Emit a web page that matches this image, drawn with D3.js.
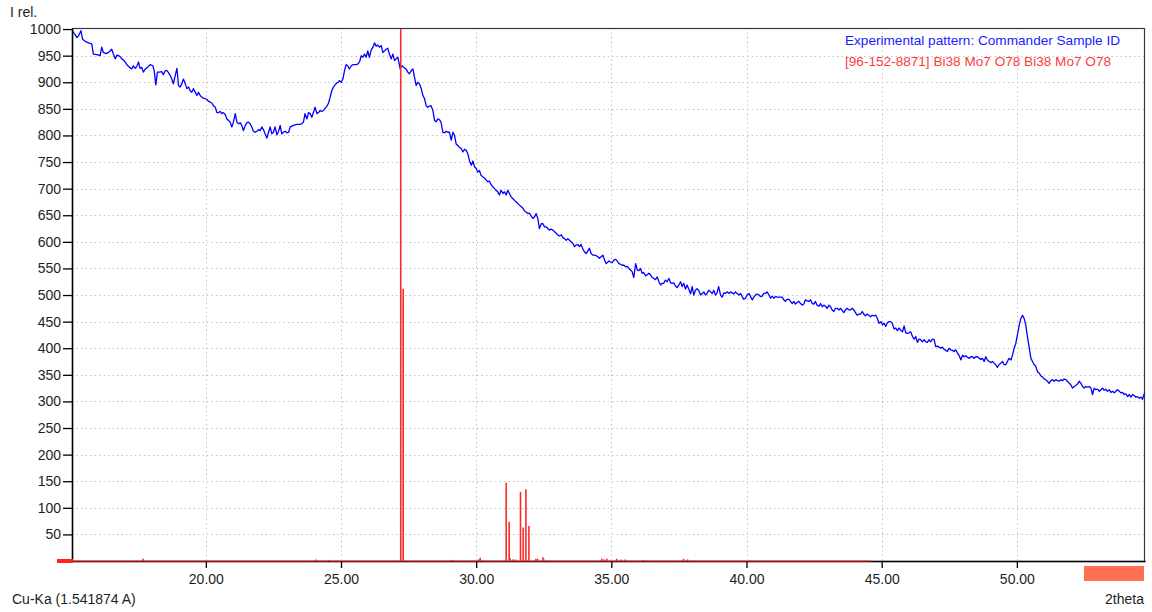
<!DOCTYPE html>
<html>
<head>
<meta charset="utf-8">
<script src="https://cdn.jsdelivr.net/npm/d3@7"></script>
<style>
  body { margin: 0; background: #fff; }
  svg { display: block; font-family: "Liberation Sans", Arial, sans-serif; }
</style>
</head>
<body>
<svg id="chart" width="1152" height="612"></svg>
<script>
// Measured scan: diffraction angle (2theta, degrees) and relative intensity
const twoTheta = [
  15.04,15.10,15.17,15.23,15.29,15.38,15.44,15.54,15.66,15.78,15.84,15.97,16.09,16.15,16.21,16.31,16.40,16.52,16.58,16.65,
  16.71,16.81,16.89,16.95,17.02,17.08,17.18,17.26,17.32,17.39,17.45,17.51,17.57,17.63,17.69,17.76,17.84,17.94,18.04,18.09,
  18.15,18.21,18.29,18.37,18.43,18.50,18.56,18.62,18.68,18.74,18.80,18.87,18.93,18.99,19.05,19.11,19.17,19.24,19.30,19.36,
  19.42,19.48,19.54,19.61,19.67,19.73,19.79,19.85,19.91,19.98,20.04,20.10,20.16,20.22,20.28,20.35,20.41,20.47,20.53,20.59,
  20.65,20.72,20.78,20.84,20.90,20.96,21.02,21.09,21.15,21.21,21.27,21.33,21.39,21.46,21.52,21.58,21.64,21.70,21.76,21.82,
  21.89,21.95,22.01,22.07,22.13,22.19,22.26,22.32,22.38,22.44,22.50,22.56,22.63,22.69,22.75,22.81,22.87,22.93,23.00,23.06,
  23.12,23.24,23.37,23.49,23.55,23.61,23.67,23.74,23.80,23.86,23.92,23.98,24.04,24.11,24.17,24.23,24.29,24.35,24.48,24.54,
  24.60,24.66,24.72,24.78,24.85,24.91,
  24.94,25.01,25.07,25.13,25.19,25.25,25.31,25.38,25.44,25.50,25.56,25.62,25.69,25.75,25.81,25.87,25.93,25.99,26.05,26.12,
  26.18,26.24,26.30,26.36,26.42,26.49,26.55,26.61,26.67,26.73,26.79,26.86,26.92,26.98,27.04,27.10,27.14,27.19,27.25,27.32,
  27.41,27.47,27.53,27.60,27.66,27.72,27.78,27.84,27.90,27.97,28.03,28.09,28.15,28.21,28.27,28.33,28.40,28.46,28.52,28.58,
  28.64,28.70,28.77,28.83,28.89,28.95,29.01,29.08,29.14,29.20,29.26,29.32,29.38,29.45,29.51,29.57,29.63,29.69,29.75,29.82,
  29.88,29.94,30.00,30.06,30.12,30.18,30.25,30.31,30.37,30.43,30.49,30.55,30.62,30.68,30.74,30.80,30.86,30.92,30.99,31.05,
  31.11,31.17,31.23,31.30,31.36,31.42,31.48,31.54,31.60,31.67,31.73,31.79,31.85,31.91,31.97,32.03,32.10,32.16,32.22,32.28,
  32.34,32.41,32.47,32.53,32.59,32.65,32.71,32.77,32.84,32.90,32.96,33.02,33.08,33.15,33.21,33.27,33.33,33.39,33.45,33.51,
  33.58,33.64,33.70,33.76,33.82,33.88,33.95,34.01,34.07,34.13,34.19,34.25,34.32,34.38,34.44,34.50,34.56,34.62,34.69,34.75,
  34.81,
  34.91,34.97,35.03,35.10,35.16,35.22,35.28,35.34,35.40,35.47,35.53,35.59,35.65,35.71,35.77,35.83,35.90,35.96,36.02,36.08,
  36.14,36.20,36.27,36.33,36.39,36.45,36.51,36.57,36.63,36.70,36.76,36.82,36.88,36.94,37.00,37.06,37.13,37.19,37.25,37.31,
  37.37,37.43,37.50,37.56,37.62,37.68,37.74,37.80,37.86,37.93,37.99,38.05,38.11,38.17,38.24,38.30,38.36,38.42,38.48,38.54,
  38.60,38.67,38.73,38.79,38.85,38.91,38.97,39.04,39.10,39.16,39.22,39.28,39.35,39.41,39.47,39.53,39.59,39.65,39.72,39.78,
  39.84,39.90,39.96,40.02,40.09,40.15,40.21,40.27,40.33,40.39,40.46,40.52,40.58,40.64,40.70,40.76,40.83,40.89,40.95,41.01,
  41.07,41.13,41.20,41.26,41.32,41.38,41.44,41.50,41.57,41.63,41.69,41.75,41.81,41.87,41.94,42.00,42.06,42.12,42.18,42.24,
  42.31,42.37,42.43,42.49,42.55,42.61,42.68,42.74,42.80,42.86,42.92,42.98,43.05,43.11,43.17,43.23,43.29,43.35,43.42,43.48,
  43.54,43.60,43.66,43.72,43.79,43.85,43.91,43.97,44.03,44.09,44.16,44.22,44.28,44.34,44.40,44.46,44.53,44.59,44.65,44.71,
  44.78,44.84,44.90,44.97,45.03,45.09,45.15,45.21,45.27,45.33,45.39,45.46,45.52,45.58,45.64,45.70,45.77,45.83,45.89,45.95,
  46.01,46.07,46.14,46.20,46.26,46.32,46.38,46.44,46.51,46.57,46.63,46.69,46.75,46.81,46.88,46.94,47.00,47.06,47.12,47.19,
  47.25,47.31,47.37,47.43,47.49,47.56,47.62,47.68,47.74,47.80,47.86,47.93,47.99,48.05,48.11,48.17,48.24,48.30,48.36,48.42,
  48.48,48.54,48.61,48.67,48.73,48.79,48.85,48.91,48.98,49.04,49.10,49.16,49.22,49.28,49.34,49.41,49.47,49.53,49.59,49.65,
  49.71,49.78,49.84,49.90,49.96,50.02,50.09,50.15,50.21,50.27,50.33,50.39,50.46,50.52,50.58,50.64,50.70,50.76,50.83,50.89,
  50.95,51.01,51.07,51.13,51.19,51.26,51.32,51.38,51.44,51.50,51.57,51.63,51.69,51.75,51.81,51.87,51.94,52.00,52.06,52.12,
  52.18,52.25,52.31,52.37,52.43,52.49,52.55,52.62,52.68,52.74,52.80,52.86,52.92,52.99,53.05,53.11,53.17,53.23,53.29,53.35,
  53.42,53.48,53.54,53.60,53.66,53.72,53.79,53.85,53.91,53.97,54.03,54.10,54.16,54.22,54.28,54.34,54.40,54.46,54.53,54.59,
  54.65,54.70,54.74
];
const intensity = [
  1000,994,989,984,987,997,981,977,974,972,953,952,950,966,956,954,956,962,953,944,
  951,949,944,942,938,933,928,925,931,926,930,938,926,928,919,925,928,933,931,922,
  895,919,919,920,914,922,922,918,913,906,897,913,926,894,891,897,906,897,888,891,
  884,881,888,881,875,881,875,872,870,869,868,864,863,861,856,853,843,843,845,841,
  843,839,831,828,825,816,825,841,825,822,824,819,809,819,824,825,822,816,808,806,
  808,811,809,816,811,803,795,806,816,803,806,816,801,808,819,803,806,808,805,806,
  816,819,821,821,822,825,841,831,843,841,834,843,853,841,843,847,845,847,855,861,
  872,884,891,895,899,900,
  903,900,906,922,933,931,925,931,933,933,933,934,939,950,947,953,947,959,947,961,
  966,974,968,970,966,969,956,959,962,964,953,944,953,941,944,947,938,925,931,928,
  925,919,916,922,925,909,894,900,897,888,875,869,856,853,855,856,847,828,826,831,
  830,825,806,805,808,806,806,791,806,800,784,781,778,775,769,774,772,766,753,744,
  752,741,738,731,734,725,722,720,716,713,714,708,703,700,697,694,688,697,691,694,
  688,697,691,684,681,678,675,672,669,666,663,658,656,653,654,649,644,647,653,644,
  625,634,634,628,628,625,622,624,622,619,616,613,611,613,608,606,603,606,603,600,
  597,591,594,595,591,595,586,581,578,583,588,578,575,575,574,572,569,572,575,566,
  559,
  564,562,561,566,567,564,559,558,556,556,553,554,550,547,544,533,559,547,546,550,
  541,542,536,538,541,538,533,531,529,534,525,519,522,522,528,525,531,523,522,523,
  517,514,519,525,516,522,511,519,512,502,516,500,509,512,508,500,503,506,500,503,
  509,506,503,509,500,504,516,500,496,504,503,506,503,506,504,502,506,503,500,503,
  497,492,494,500,503,497,491,496,500,502,500,497,498,503,503,506,500,494,498,494,
  497,496,496,496,496,491,488,492,492,488,484,488,483,486,488,484,481,483,491,489,
  488,491,484,483,488,481,479,484,478,481,479,475,481,478,472,469,475,475,472,475,
  471,467,472,475,472,472,475,472,467,462,464,464,469,464,461,464,462,459,462,461,
  462,456,447,450,444,447,441,448,450,450,447,436,438,433,438,434,431,442,429,428,
  429,431,422,417,422,411,417,416,412,416,412,411,416,412,417,416,403,404,402,400,
  402,398,396,394,400,397,396,394,397,391,387,378,387,384,386,383,381,384,384,381,
  384,384,381,379,381,375,384,378,375,373,375,372,369,364,369,372,375,369,369,375,
  381,378,387,400,409,425,444,456,462,456,444,422,400,381,375,369,366,356,353,348,
  346,342,341,338,334,339,341,338,341,339,338,341,339,342,341,338,334,331,325,328,
  330,333,338,334,328,325,328,327,328,325,313,325,322,323,319,322,325,321,323,319,
  322,317,319,316,319,322,319,316,317,313,314,309,313,308,313,311,308,309,306,308,
  304,313,316
];

// Reference card 96-152-8871: line positions and relative intensities
const stickTheta = [17.68, 24.08, 24.54, 27.21, 27.30, 29.12, 30.09, 30.15, 31.11, 31.22, 31.26, 31.36, 31.45,
  31.64, 31.74, 31.84, 31.95, 32.21, 32.27, 32.47, 32.51, 34.65, 34.74, 34.84, 35.20, 35.35, 35.51, 36.17, 37.67, 37.82];
const stickIntensity = [4, 3, 2, 1000, 512, 2, 3, 6, 147, 74, 5, 3, 3,
  130, 63, 135, 66, 4, 4, 7, 3, 4, 3, 4, 4, 3, 3, 2, 4, 3];

const yTickValues = d3.range(50, 1001, 50);
const xTickValues = [20, 25, 30, 35, 40, 45, 50];
const legendLabels = ["Experimental pattern: Commander Sample ID", "[96-152-8871] Bi38 Mo7 O78 Bi38 Mo7 O78"];
const legendColors = ["#1a1aff", "#ff3b3b"];

const svg = d3.select("#chart");
const plot = { left: 72, right: 1145, top: 28, bottom: 561 };
const labelFont = "14px";

const x = d3.scaleLinear().domain([15.05, 54.74]).range([plot.left, plot.right]);
const y = d3.scaleLinear().domain([0, 1002]).range([plot.bottom, plot.top]);

svg.append("defs").append("clipPath").attr("id", "plotClip")
  .append("rect").attr("x", plot.left).attr("y", plot.top)
  .attr("width", plot.right - plot.left).attr("height", plot.bottom - plot.top + 1);

// dotted grid
const grid = svg.append("g").attr("stroke", "#c4c4c4").attr("stroke-width", 1).attr("stroke-dasharray", "1.5,3");
grid.selectAll("line.h").data(yTickValues.filter(v => v < 1000)).join("line")
  .attr("x1", plot.left).attr("x2", plot.right)
  .attr("y1", d => Math.round(y(d)) + 0.5).attr("y2", d => Math.round(y(d)) + 0.5);
grid.selectAll("line.v").data(xTickValues).join("line")
  .attr("y1", plot.top).attr("y2", plot.bottom)
  .attr("x1", d => Math.round(x(d)) + 0.5).attr("x2", d => Math.round(x(d)) + 0.5);

// frame
svg.append("rect")
  .attr("x", plot.left + 0.5).attr("y", plot.top + 0.5)
  .attr("width", plot.right - plot.left - 1).attr("height", plot.bottom - plot.top)
  .attr("fill", "none").attr("stroke", "#3a3a3a").attr("stroke-width", 1.2);

// experimental pattern
const line = d3.line().x((d, i) => x(twoTheta[i])).y(d => y(d));
svg.append("path")
  .attr("clip-path", "url(#plotClip)")
  .attr("d", line(intensity))
  .attr("fill", "none").attr("stroke", "#0000ff").attr("stroke-width", 1.3)
  .attr("stroke-linejoin", "round");

// axes
const yAxis = d3.axisLeft(y).tickValues(yTickValues).tickSize(9).tickSizeOuter(0).tickPadding(2)
  .tickFormat(d3.format("d"));
const gy = svg.append("g").attr("transform", `translate(${plot.left},0)`).call(yAxis);
const xAxis = d3.axisBottom(x).tickValues(xTickValues).tickSize(7).tickSizeOuter(0).tickPadding(6)
  .tickFormat(d3.format(".2f"));
const gx = svg.append("g").attr("transform", `translate(0,${plot.bottom})`).call(xAxis);
[gx, gy].forEach(g => {
  g.select(".domain").attr("stroke", "#000").attr("stroke-width", 1.5);
  g.selectAll(".tick line").attr("stroke", "#000").attr("stroke-width", 1.3);
  g.selectAll(".tick text").attr("fill", "#1e1e1e").style("font-size", labelFont)
    .style("font-family", '"Liberation Sans", Arial, sans-serif');
});

// reference lines
const sticks = svg.append("g").attr("clip-path", "url(#plotClip)");
sticks.append("line")
  .attr("x1", x(15.05)).attr("x2", x(44.6)).attr("y1", y(0)).attr("y2", y(0))
  .attr("stroke", "#ff2a2a").attr("stroke-width", 1.2);
sticks.selectAll("line.stick").data(stickIntensity).join("line")
  .attr("class", "stick")
  .attr("x1", (d, i) => x(stickTheta[i])).attr("x2", (d, i) => x(stickTheta[i]))
  .attr("y1", y(0)).attr("y2", d => y(d))
  .attr("stroke", "#ff2a2a").attr("stroke-width", 1.6);

// marker at the start of the reference baseline
svg.append("rect").attr("x", 57).attr("y", 559).attr("width", 16).attr("height", 4).attr("fill", "#ff2020");

// marker box at the lower right
svg.append("rect").attr("x", 1084).attr("y", 566).attr("width", 60).attr("height", 15).attr("fill", "#ff7052");

// legend
svg.append("g").selectAll("text").data(legendLabels).join("text")
  .attr("x", 845).attr("y", (d, i) => 45 + i * 21)
  .attr("fill", (d, i) => legendColors[i])
  .style("font-size", "13.6px")
  .text(d => d);

// axis captions
svg.append("text").attr("x", 10).attr("y", 17).attr("fill", "#1e1e1e").style("font-size", labelFont).text("I rel.");
svg.append("text").attr("x", 12).attr("y", 604).attr("fill", "#1e1e1e").style("font-size", labelFont).text("Cu-Ka (1.541874 A)");
svg.append("text").attr("x", 1144).attr("y", 604).attr("text-anchor", "end").attr("fill", "#1e1e1e").style("font-size", labelFont).text("2theta");
</script>
</body>
</html>
